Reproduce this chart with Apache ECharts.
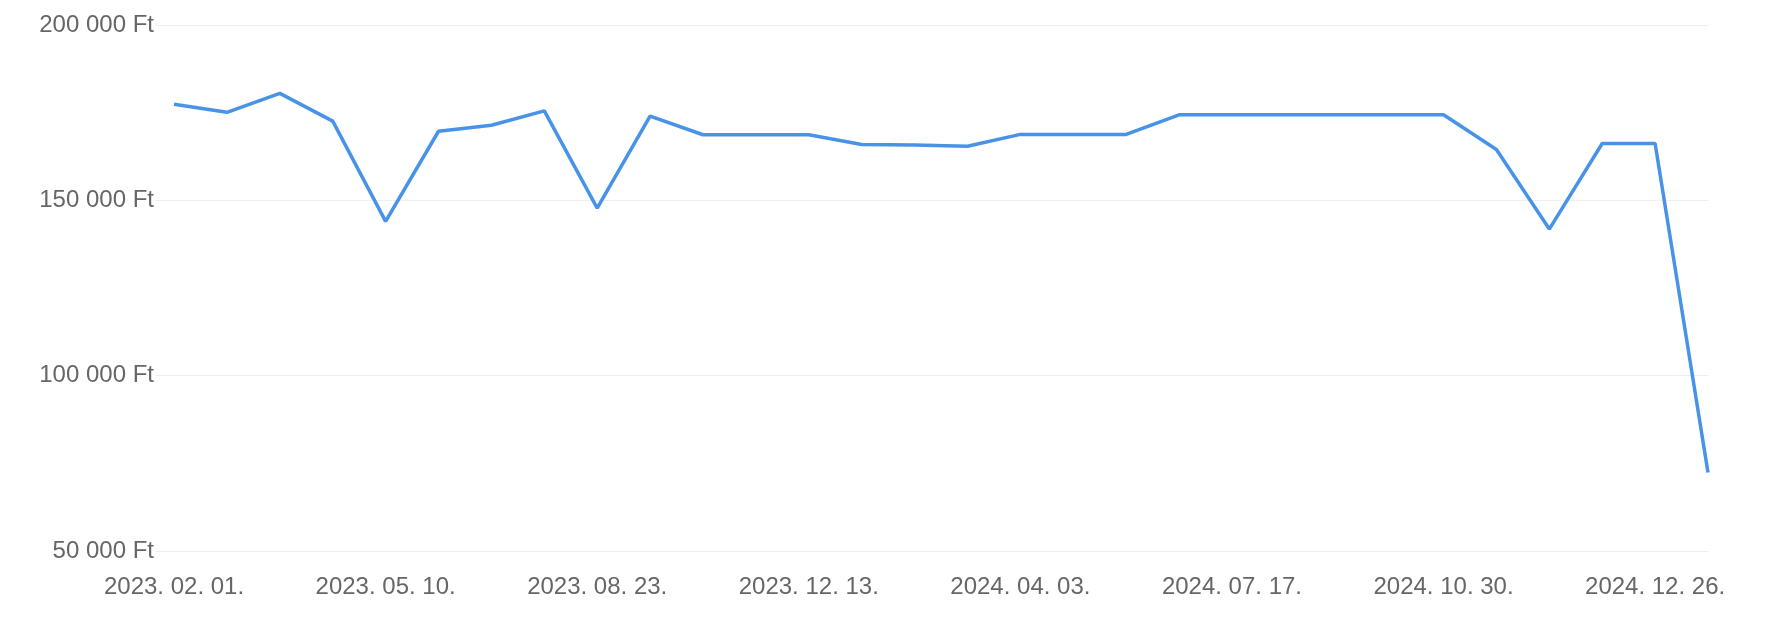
<!DOCTYPE html>
<html>
<head>
<meta charset="utf-8">
<script src="https://cdn.jsdelivr.net/npm/echarts@6/dist/echarts.min.js"></script>
<style>
html,body{margin:0;padding:0;background:#fff;}
#chart{width:1780px;height:618px;}
</style>
</head>
<body>
<div id="chart"></div>
<script>
const categories = [
  '2023. 02. 01.', '2023. 02. 22.', '2023. 03. 15.', '2023. 04. 12.',
  '2023. 05. 10.', '2023. 05. 31.', '2023. 06. 28.', '2023. 07. 26.',
  '2023. 08. 23.', '2023. 09. 20.', '2023. 10. 18.', '2023. 11. 15.',
  '2023. 12. 13.', '2024. 01. 10.', '2024. 02. 07.', '2024. 03. 06.',
  '2024. 04. 03.', '2024. 04. 24.', '2024. 05. 22.', '2024. 06. 19.',
  '2024. 07. 17.', '2024. 08. 07.', '2024. 09. 04.', '2024. 10. 02.',
  '2024. 10. 30.', '2024. 11. 13.', '2024. 11. 27.', '2024. 12. 11.',
  '2024. 12. 26.', '2025. 01. 08.'
];
const prices = [
  177400, 175100, 180500, 172600,
  144000, 169700, 171400, 175500,
  147800, 174000, 168700, 168700,
  168700, 165900, 165800, 165400,
  168800, 168800, 168800, 174400,
  174400, 174400, 174400, 174400,
  174400, 164500, 141800, 166200,
  166200, 72400
];
const labelIndices = [0, 4, 8, 12, 16, 20, 24, 28];
const yTicks = [50000, 100000, 150000, 200000];

function fmtFt(v) {
  return String(Math.round(v)).replace(/\B(?=(\d{3})+(?!\d))/g, ' ') + ' Ft';
}

const chart = echarts.init(document.getElementById('chart'), null, {renderer: 'canvas'});
chart.setOption({
  animation: false,
  backgroundColor: '#ffffff',
  grid: {left: 155, right: 72, top: 25, bottom: 67, containLabel: false},
  xAxis: {
    type: 'value',
    min: -0.36,
    max: categories.length - 1,
    axisLine: {show: false},
    axisTick: {show: false},
    splitLine: {show: false},
    axisLabel: {
      customValues: labelIndices,
      formatter: function (v) { return categories[Math.round(v)] || ''; },
      color: '#666666',
      fontSize: 24,
      fontFamily: 'Liberation Sans, Arial, sans-serif',
      margin: 24,
      showMinLabel: true,
      showMaxLabel: true
    }
  },
  yAxis: {
    type: 'value',
    min: yTicks[0],
    max: yTicks[yTicks.length - 1],
    interval: 50000,
    axisLine: {show: false},
    axisTick: {show: false},
    splitLine: {show: true, lineStyle: {color: '#efefef', width: 1}},
    axisLabel: {
      formatter: fmtFt,
      color: '#666666',
      fontSize: 24,
      fontFamily: 'Liberation Sans, Arial, sans-serif',
      margin: 1
    }
  },
  series: [{
    type: 'line',
    data: prices.map(function (v, i) { return [i, v]; }),
    showSymbol: false,
    symbol: 'none',
    smooth: false,
    lineStyle: {color: '#4893e8', width: 3.5},
    itemStyle: {color: '#4893e8'}
  }]
});
</script>
</body>
</html>
